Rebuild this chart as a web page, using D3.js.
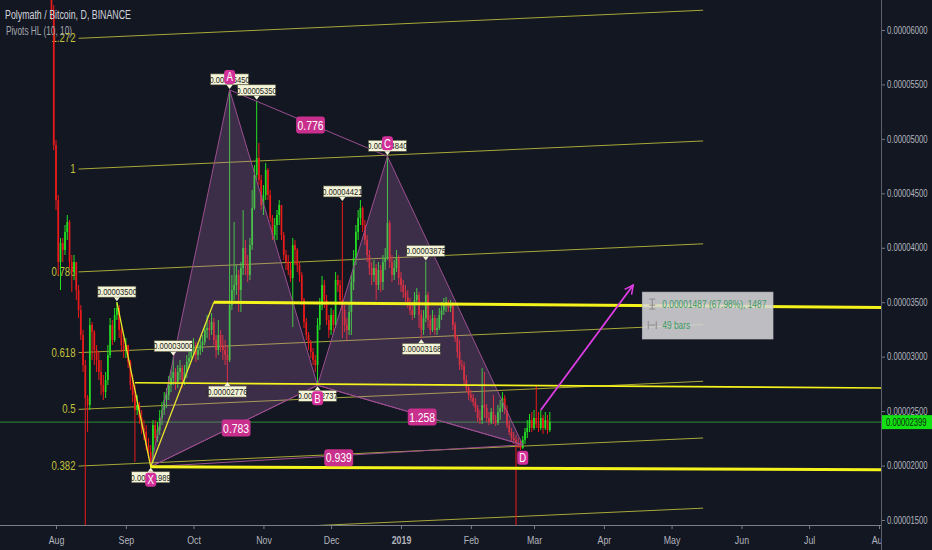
<!DOCTYPE html>
<html><head><meta charset="utf-8">
<script src="https://cdn.jsdelivr.net/npm/d3@7"></script>
<style>body{margin:0;background:#131722;overflow:hidden}svg{display:block}</style>
</head><body>
<svg id="c" width="932" height="550"></svg>
<script>
// ---------------- DATA ----------------
const titleText = "Polymath / Bitcoin, D, BINANCE";
const indicatorText = "Pivots HL (10, 10)";
const startDate = "2018-07-30";
const firstOpen = 6643;
const closes = [6184,4944,4439,3869,4044,3980,4145,4237,3869,3777,3869,3612,3428,3199,2923,2620,2556,3291,3226,3061,2969,2859,2740,2675,2786,3015,3291,3153,3383,3447,3245,3107,3061,3107,2951,2740,2648,2510,2556,2437,2345,2308,2189,2124,2051,2372,2253,2326,2437,2510,2602,2648,2740,2804,2859,2767,2859,2896,2786,2859,2951,2988,3061,3107,3015,3061,3107,3135,3245,3263,3245,3318,3153,3061,3199,3107,3061,3015,2969,3474,3612,3658,3750,3612,3814,3998,3842,3750,4025,4365,4668,4824,4622,4393,4485,4714,4485,4273,4117,4209,4301,4393,4117,3934,3869,3796,3722,4025,3980,3842,3750,3520,3318,3199,3125,3043,2969,2923,3291,3474,3658,3520,3337,3245,3383,3291,3704,3658,3520,3428,3291,3245,3410,3686,3906,4145,4273,4365,4209,4071,3934,3814,3750,3814,3658,3796,3686,3869,3906,4227,3869,3750,3814,3906,3722,3658,3594,3548,3502,3428,3383,3520,3566,3383,3245,3355,3566,3337,3245,3355,3245,3263,3383,3428,3474,3502,3447,3474,3291,3171,3043,2923,2914,2786,2712,2648,2620,2584,2529,2437,2418,2556,2529,2437,2400,2492,2418,2391,2492,2529,2620,2510,2372,2308,2253,2235,2207,2189,2161,2235,2308,2345,2418,2345,2437,2381,2345,2437,2345,2418,2326,2399];
const highs = [6735,6230,4990,4485,4090,4090,4209,4301,4255,3934,3934,3869,3658,3474,3245,2969,2648,3355,3318,3245,3107,3043,2969,2832,2859,3107,3355,3337,3447,3500,3474,3291,3171,3171,3107,2969,2832,2740,2648,2584,2510,2418,2372,2253,2189,2418,2418,2400,2510,2584,2675,2712,2822,2878,3000,2896,2923,2969,2923,2923,3015,3061,3107,3171,3135,3125,3171,3199,3291,3383,3337,3401,3355,3199,3337,3245,3199,3153,3107,5450,3750,4237,3842,3796,3869,4347,4071,3934,4090,4531,4760,5350,4962,4668,4576,4778,4732,4531,4301,4273,4347,4439,4393,4145,3980,3934,3869,4090,4071,3998,3869,3777,3539,3355,3226,3153,3079,3015,3355,3539,3741,3704,3566,3383,3447,3428,3777,3750,3704,4421,3474,3355,3474,3750,3980,4209,4347,4439,4380,4255,4117,3980,3869,3888,3850,3869,3842,3934,3998,4840,4250,3934,3888,3980,3934,3777,3704,3658,3612,3539,3502,3594,3631,3594,3428,3428,3875,3594,3383,3428,3383,3355,3447,3502,3539,3548,3520,3520,3493,3318,3199,3153,2969,2951,2832,2740,2694,2657,2620,2556,2510,2896,2859,2565,2492,2529,2648,2464,2556,2602,2675,2648,2556,2418,2345,2308,2280,2253,2235,2271,2345,2418,2473,2492,2510,2740,2492,2510,2464,2492,2464,2492];
const lows = [6092,4898,4347,3750,3612,3869,3934,4071,3814,3594,3704,3520,3355,3153,2859,1426,2308,2510,2969,2923,2859,2786,2648,2602,2620,2740,2988,3107,3135,3337,3171,3043,2988,2988,2896,2694,2584,2033,2464,2381,2290,2235,2143,2069,1989,2023,2189,2216,2280,2372,2464,2529,2602,2675,2740,2694,2712,2786,2712,2740,2804,2896,2951,3015,2951,2969,3015,3043,3107,3171,3153,3199,3107,2988,3015,3043,2969,2923,2776,2951,3428,3520,3566,3410,3410,3750,3750,3686,3704,3980,4347,4622,4576,4347,4301,4439,4439,4237,4071,4053,4071,4209,4071,3888,3796,3750,3686,3272,3842,3777,3686,3474,3263,3153,3061,2988,2923,2859,2737,3245,3428,3447,3291,3171,3199,3226,3263,3594,3474,3171,3226,3153,3199,3199,3612,3842,4071,4209,4145,4025,3869,3750,3658,3686,3520,3612,3594,3612,3796,3888,3814,3686,3704,3777,3658,3594,3539,3502,3447,3383,3337,3355,3474,3263,3168,3199,3318,3263,3199,3226,3199,3199,3245,3337,3383,3410,3410,3410,3245,3135,2988,2878,2878,2740,2675,2602,2584,2547,2492,2400,2381,2381,2437,2400,2372,2381,2381,2363,2372,2418,2492,2473,2345,2280,2225,2198,1408,2161,2143,2152,2198,2253,2308,2308,2326,2345,2308,2326,2290,2326,2290,2308];

const priceTicks = [1500,2000,2500,3000,3500,4000,4500,5000,5500,6000];
const monthDates = ["2018-08-01","2018-09-01","2018-10-01","2018-11-01","2018-12-01","2019-01-01","2019-02-01","2019-03-01","2019-04-01","2019-05-01","2019-06-01","2019-07-01","2019-08-01"];
const monthLabels = ["Aug","Sep","Oct","Nov","Dec","2019","Feb","Mar","Apr","May","Jun","Jul","Aug"];
const lastPrice = 2399;

// fib channel (0.236 level has its label below the visible area)
const fibLevels = [1.272, 1, 0.786, 0.618, 0.5, 0.382, 0.236];
const fibLabelled = [true, true, true, true, true, true, false];
const fibDates = ["2018-08-11", "2019-05-15"];
const fibLevel0Prices = [309, 567];
const fibLevel1Prices = [4723, 4981];

// harmonic pattern
const patNames = ["X","A","B","C","D"];
const patDates = ["2018-09-12","2018-10-17","2018-11-25","2018-12-26","2019-02-24"];
const patPrices = [1989, 5450, 2737, 4840, 2190];
const ratioPairs = [[0,2],[1,3],[2,4],[0,4]];
const ratioTexts = ["0.783","0.776","1.258","0.939"];

// pivot labels
const pivotDates = ["2018-10-17","2018-10-29","2018-12-26","2018-12-06","2019-01-12","2018-08-28","2018-09-22","2018-10-16","2018-11-25","2019-01-10","2018-09-12"];
const pivotPrices = [5450,5350,4840,4421,3875,3500,3000,2776,2737,3168,1989];
const pivotKinds = ["H","H","H","H","H","H","H","L","L","L","L"];

// yellow drawings
const zigDates = ["2018-08-28","2018-09-12","2018-10-10"];
const zigPrices = [3500, 1989, 3500];
const trendStartDates = ["2018-10-10","2018-09-12","2018-09-05"];
const trendStartPrices = [3500, 1989, 2760];
const trendEndDates = ["2019-08-05","2019-08-05","2019-08-05"];
const trendEndPrices = [3452, 1962, 2712];
const trendWidths = [3, 3, 1.6];

// projection arrow & measure box
const arrowDates = ["2019-03-04","2019-04-14"];
const arrowPrices = [2510, 3658];
const boxDates = ["2019-04-18","2019-06-15"];
const boxPrices = [3593, 3162];
const boxLines = ["0.00001487 (67.98%), 1487", "49 bars"];

// ---------------- DRAW ----------------
const parse = d3.utcParse("%Y-%m-%d");
const svg = d3.select("#c");
const PR = 881, PB = 525;
const FONT = "'Liberation Sans', Arial, sans-serif";
const SQ = 0.8;

const x = d3.scaleUtc().domain([parse("2018-08-01"), parse("2019-08-01")]).range([56, 879]);
const y = d3.scaleLinear().domain([1500, 6000]).range([520, 30]);

function squeeze(sel, f) {
  sel.each(function () {
    const w = this.getComputedTextLength();
    this.setAttribute("textLength", w * (f || SQ));
    this.setAttribute("lengthAdjust", "spacingAndGlyphs");
  });
}
function fixLen(sel, w) {
  sel.attr("textLength", w).attr("lengthAdjust", "spacingAndGlyphs");
}
const fmt = v => (v * 1e-8).toFixed(8);

svg.append("rect").attr("width", 932).attr("height", 550).attr("fill", "#131722");
const defs = svg.append("defs");
defs.append("clipPath").attr("id", "plot")
  .append("rect").attr("x", 0).attr("y", 0).attr("width", PR).attr("height", PB);
defs.append("clipPath").attr("id", "xax")
  .append("rect").attr("x", 0).attr("y", PB).attr("width", PR).attr("height", 25);
defs.append("marker").attr("id", "ah").attr("viewBox", "0 0 10 10")
  .attr("refX", 9).attr("refY", 5).attr("markerWidth", 6).attr("markerHeight", 6)
  .attr("orient", "auto").attr("markerUnits", "strokeWidth")
  .append("path").attr("d", "M1,1 L9,5 L1,9").attr("fill", "none").attr("stroke", "#e03de6").attr("stroke-width", 1.4);

const g = svg.append("g").attr("clip-path", "url(#plot)");

// fib channel
const fd0 = parse(fibDates[0]), fd1 = parse(fibDates[1]);
fibLevels.forEach((lv, i) => {
  const p0 = fibLevel0Prices[0] + lv * (fibLevel1Prices[0] - fibLevel0Prices[0]);
  const p1 = fibLevel0Prices[1] + lv * (fibLevel1Prices[1] - fibLevel0Prices[1]);
  g.append("line").attr("x1", x(fd0)).attr("y1", y(p0)).attr("x2", x(fd1)).attr("y2", y(p1))
    .attr("stroke", "#c4c23c").attr("stroke-width", 1).attr("opacity", 0.85);
  if (fibLabelled[i]) {
    g.append("text").attr("x", x(fd0) - 3).attr("y", y(p0) + 4).attr("text-anchor", "end")
      .attr("fill", "#c4c23c").attr("font-family", FONT).attr("font-size", 12)
      .text(String(lv)).call(squeeze);
  }
});

// last price line
g.append("line").attr("x1", 0).attr("x2", PR).attr("y1", y(lastPrice)).attr("y2", y(lastPrice))
  .attr("stroke", "#2f9a3a").attr("stroke-width", 1).attr("opacity", 0.9);

// candles
const start = parse(startDate);
const candles = closes.map((c, i) => ({
  date: d3.utcDay.offset(start, i),
  o: i === 0 ? firstOpen : closes[i - 1], c, h: highs[i], l: lows[i]
}));
const UP = "#22e022", DN = "#ea1a1a";
const cg = g.append("g");
cg.selectAll("line.w").data(candles).join("line").attr("class", "w")
  .attr("x1", d => x(d.date)).attr("x2", d => x(d.date))
  .attr("y1", d => y(Math.max(d.h, d.o, d.c))).attr("y2", d => y(Math.min(d.l, d.o, d.c)))
  .attr("stroke", d => d.c >= d.o ? UP : DN).attr("stroke-width", 1);
cg.selectAll("rect.b").data(candles).join("rect").attr("class", "b")
  .attr("x", d => x(d.date) - 0.85).attr("width", 1.7)
  .attr("y", d => y(Math.max(d.o, d.c)))
  .attr("height", d => Math.max(1, Math.abs(y(d.o) - y(d.c))))
  .attr("fill", d => d.c >= d.o ? UP : DN);

// harmonic pattern
const P = patDates.map((d, i) => [x(parse(d)), y(patPrices[i])]);
const tri = [[0, 1, 2], [2, 3, 4]];
tri.forEach(t => {
  g.append("path").attr("d", "M" + t.map(k => P[k].join(",")).join("L") + "Z")
    .attr("fill", "rgba(172,112,182,0.27)").attr("stroke", "#9b4e8f").attr("stroke-width", 1);
});
ratioPairs.forEach(pr => {
  g.append("line").attr("x1", P[pr[0]][0]).attr("y1", P[pr[0]][1]).attr("x2", P[pr[1]][0]).attr("y2", P[pr[1]][1])
    .attr("stroke", "#9b4e8f").attr("stroke-width", 1);
});

// yellow zigzag & trend lines
g.append("path").attr("d", d3.line()(zigDates.map((d, i) => [x(parse(d)), y(zigPrices[i])])))
  .attr("fill", "none").attr("stroke", "#e8e62a").attr("stroke-width", 1.3);
trendStartDates.forEach((d, i) => {
  g.append("line").attr("x1", x(parse(d))).attr("y1", y(trendStartPrices[i]))
    .attr("x2", x(parse(trendEndDates[i]))).attr("y2", y(trendEndPrices[i]))
    .attr("stroke", "#f5f31c").attr("stroke-width", trendWidths[i]);
});

// arrow
g.append("line").attr("x1", x(parse(arrowDates[0]))).attr("y1", y(arrowPrices[0]))
  .attr("x2", x(parse(arrowDates[1]))).attr("y2", y(arrowPrices[1]))
  .attr("stroke", "#e03de6").attr("stroke-width", 1.8).attr("marker-end", "url(#ah)");

// ratio badges
ratioPairs.forEach((pr, i) => {
  const cx = (P[pr[0]][0] + P[pr[1]][0]) / 2 + 2, cy = (P[pr[0]][1] + P[pr[1]][1]) / 2 + 2;
  const bg = g.append("g");
  const r = bg.append("rect").attr("rx", 3).attr("fill", "#c92f8c");
  const t = bg.append("text").attr("x", cx).attr("y", cy + 4.5).attr("text-anchor", "middle")
    .attr("fill", "#ffffff").attr("font-family", FONT).attr("font-size", 13).text(ratioTexts[i]).call(squeeze);
  const w = t.node().getComputedTextLength() * SQ + 8;
  r.attr("x", cx - w / 2).attr("y", cy - 8.5).attr("width", w).attr("height", 17);
});

// pivot labels
pivotDates.forEach((d, i) => {
  const px = x(parse(d)), py = y(pivotPrices[i]), hi = pivotKinds[i] === "H";
  const cy = hi ? py - 10.5 : py + 10.5;
  const lg = g.append("g");
  const r = lg.append("rect").attr("fill", "#f4f4d8").attr("stroke", "#54543c").attr("stroke-width", 0.6);
  const t = lg.append("text").attr("x", px).attr("y", cy + 3.3).attr("text-anchor", "middle")
    .attr("fill", "#1b1b1b").attr("font-family", FONT).attr("font-size", 9.5).text(fmt(pivotPrices[i])).call(squeeze);
  const w = t.node().getComputedTextLength() * SQ + 6;
  r.attr("x", px - w / 2).attr("y", cy - 5.5).attr("width", w).attr("height", 11);
  const tip = hi ? `M${px - 3},${py - 5} L${px + 3},${py - 5} L${px},${py - 1}Z` : `M${px - 3},${py + 5} L${px + 3},${py + 5} L${px},${py + 1}Z`;
  lg.append("path").attr("d", tip).attr("fill", "#f4f4d8");
});

// pattern point badges
P.forEach((p, i) => {
  const above = (i === 1 || i === 3);
  const cy = above ? p[1] - 13 : p[1] + 13;
  g.append("rect").attr("x", p[0] - 5.5).attr("y", cy - 7).attr("width", 11).attr("height", 14).attr("rx", 3)
    .attr("fill", "#d4309a");
  g.append("text").attr("x", p[0]).attr("y", cy + 4.5).attr("text-anchor", "middle").attr("fill", "#fff")
    .attr("font-family", FONT).attr("font-size", 12).text(patNames[i]).call(squeeze);
});

// measure box
const bx0 = x(parse(boxDates[0])), bx1 = x(parse(boxDates[1])), by0 = y(boxPrices[0]), by1 = y(boxPrices[1]);
g.append("rect").attr("x", bx0).attr("y", by0).attr("width", bx1 - bx0).attr("height", by1 - by0)
  .attr("fill", "rgba(214,214,216,0.88)").attr("stroke", "#b8b8bc").attr("stroke-width", 0.6);
const ix = bx0 + 10, iy1 = by0 + 12, iy2 = by0 + 33;
g.append("path").attr("d", `M${ix - 3},${iy1 - 5}h6M${ix},${iy1 - 5}v10M${ix - 3},${iy1 + 5}h6M${ix - 3},${iy1 + 1}h6`)
  .attr("stroke", "#8a8a8a").attr("stroke-width", 1).attr("fill", "none");
g.append("path").attr("d", `M${ix - 4},${iy2 - 4}v8M${ix + 4},${iy2 - 4}v8M${ix - 3},${iy2}h6`)
  .attr("stroke", "#8a8a8a").attr("stroke-width", 1).attr("fill", "none");
g.append("text").attr("x", bx0 + 20).attr("y", iy1 + 3.5).attr("fill", "#3e9a66")
  .attr("font-family", FONT).attr("font-size", 10.5).text(boxLines[0]).call(squeeze);
g.append("text").attr("x", bx0 + 20).attr("y", iy2 + 3.5).attr("fill", "#3e9a66")
  .attr("font-family", FONT).attr("font-size", 10.5).text(boxLines[1]).call(squeeze);

// title
svg.append("text").attr("x", 5).attr("y", 19).attr("fill", "#d1d4dc").attr("font-family", FONT)
  .attr("font-size", 12).text(titleText).call(fixLen, 126);
svg.append("text").attr("x", 6).attr("y", 35).attr("fill", "#a3a6af").attr("font-family", FONT)
  .attr("font-size", 12).text(indicatorText).call(fixLen, 66);

// axes
const axR = svg.append("g").attr("transform", `translate(${PR},0)`)
  .call(d3.axisRight(y).tickValues(priceTicks).tickFormat(fmt).tickSize(4).tickPadding(2));
axR.select(".domain").remove();
axR.selectAll("line").attr("stroke", "#787b86");
axR.selectAll("text").attr("fill", "#b2b5be").attr("font-family", FONT).attr("font-size", 10)
  .attr("x", 0).attr("transform", "translate(6,0) scale(0.77,1)");

const axB = svg.append("g").attr("clip-path", "url(#xax)").append("g").attr("transform", `translate(0,${PB})`)
  .call(d3.axisBottom(x).tickValues(monthDates.map(parse)).tickFormat((d, i) => monthLabels[i]).tickSize(4).tickPadding(7));
axB.select(".domain").remove();
axB.selectAll("line").attr("stroke", "#787b86");
axB.selectAll("text").attr("fill", "#b2b5be").attr("font-family", FONT).attr("font-size", 11)
  .attr("font-weight", (d, i) => monthLabels[i] === "2019" ? "bold" : "normal").call(squeeze);

svg.append("line").attr("x1", PR + 0.5).attr("x2", PR + 0.5).attr("y1", 0).attr("y2", 550).attr("stroke", "#5d606b");
svg.append("line").attr("x1", 0).attr("x2", PR).attr("y1", PB + 0.5).attr("y2", PB + 0.5).attr("stroke", "#7b7e89");

// last price label
const ly = y(lastPrice);
svg.append("rect").attr("x", PR + 1).attr("y", ly - 7).attr("width", 51).attr("height", 14).attr("fill", "#12e012");
svg.append("text").attr("x", 0).attr("y", 0).attr("transform", `translate(${PR + 5},${ly + 3.6}) scale(0.77,1)`)
  .attr("fill", "#0d2a0d").attr("font-family", FONT).attr("font-size", 10).text(fmt(lastPrice));
</script>
</body></html>
